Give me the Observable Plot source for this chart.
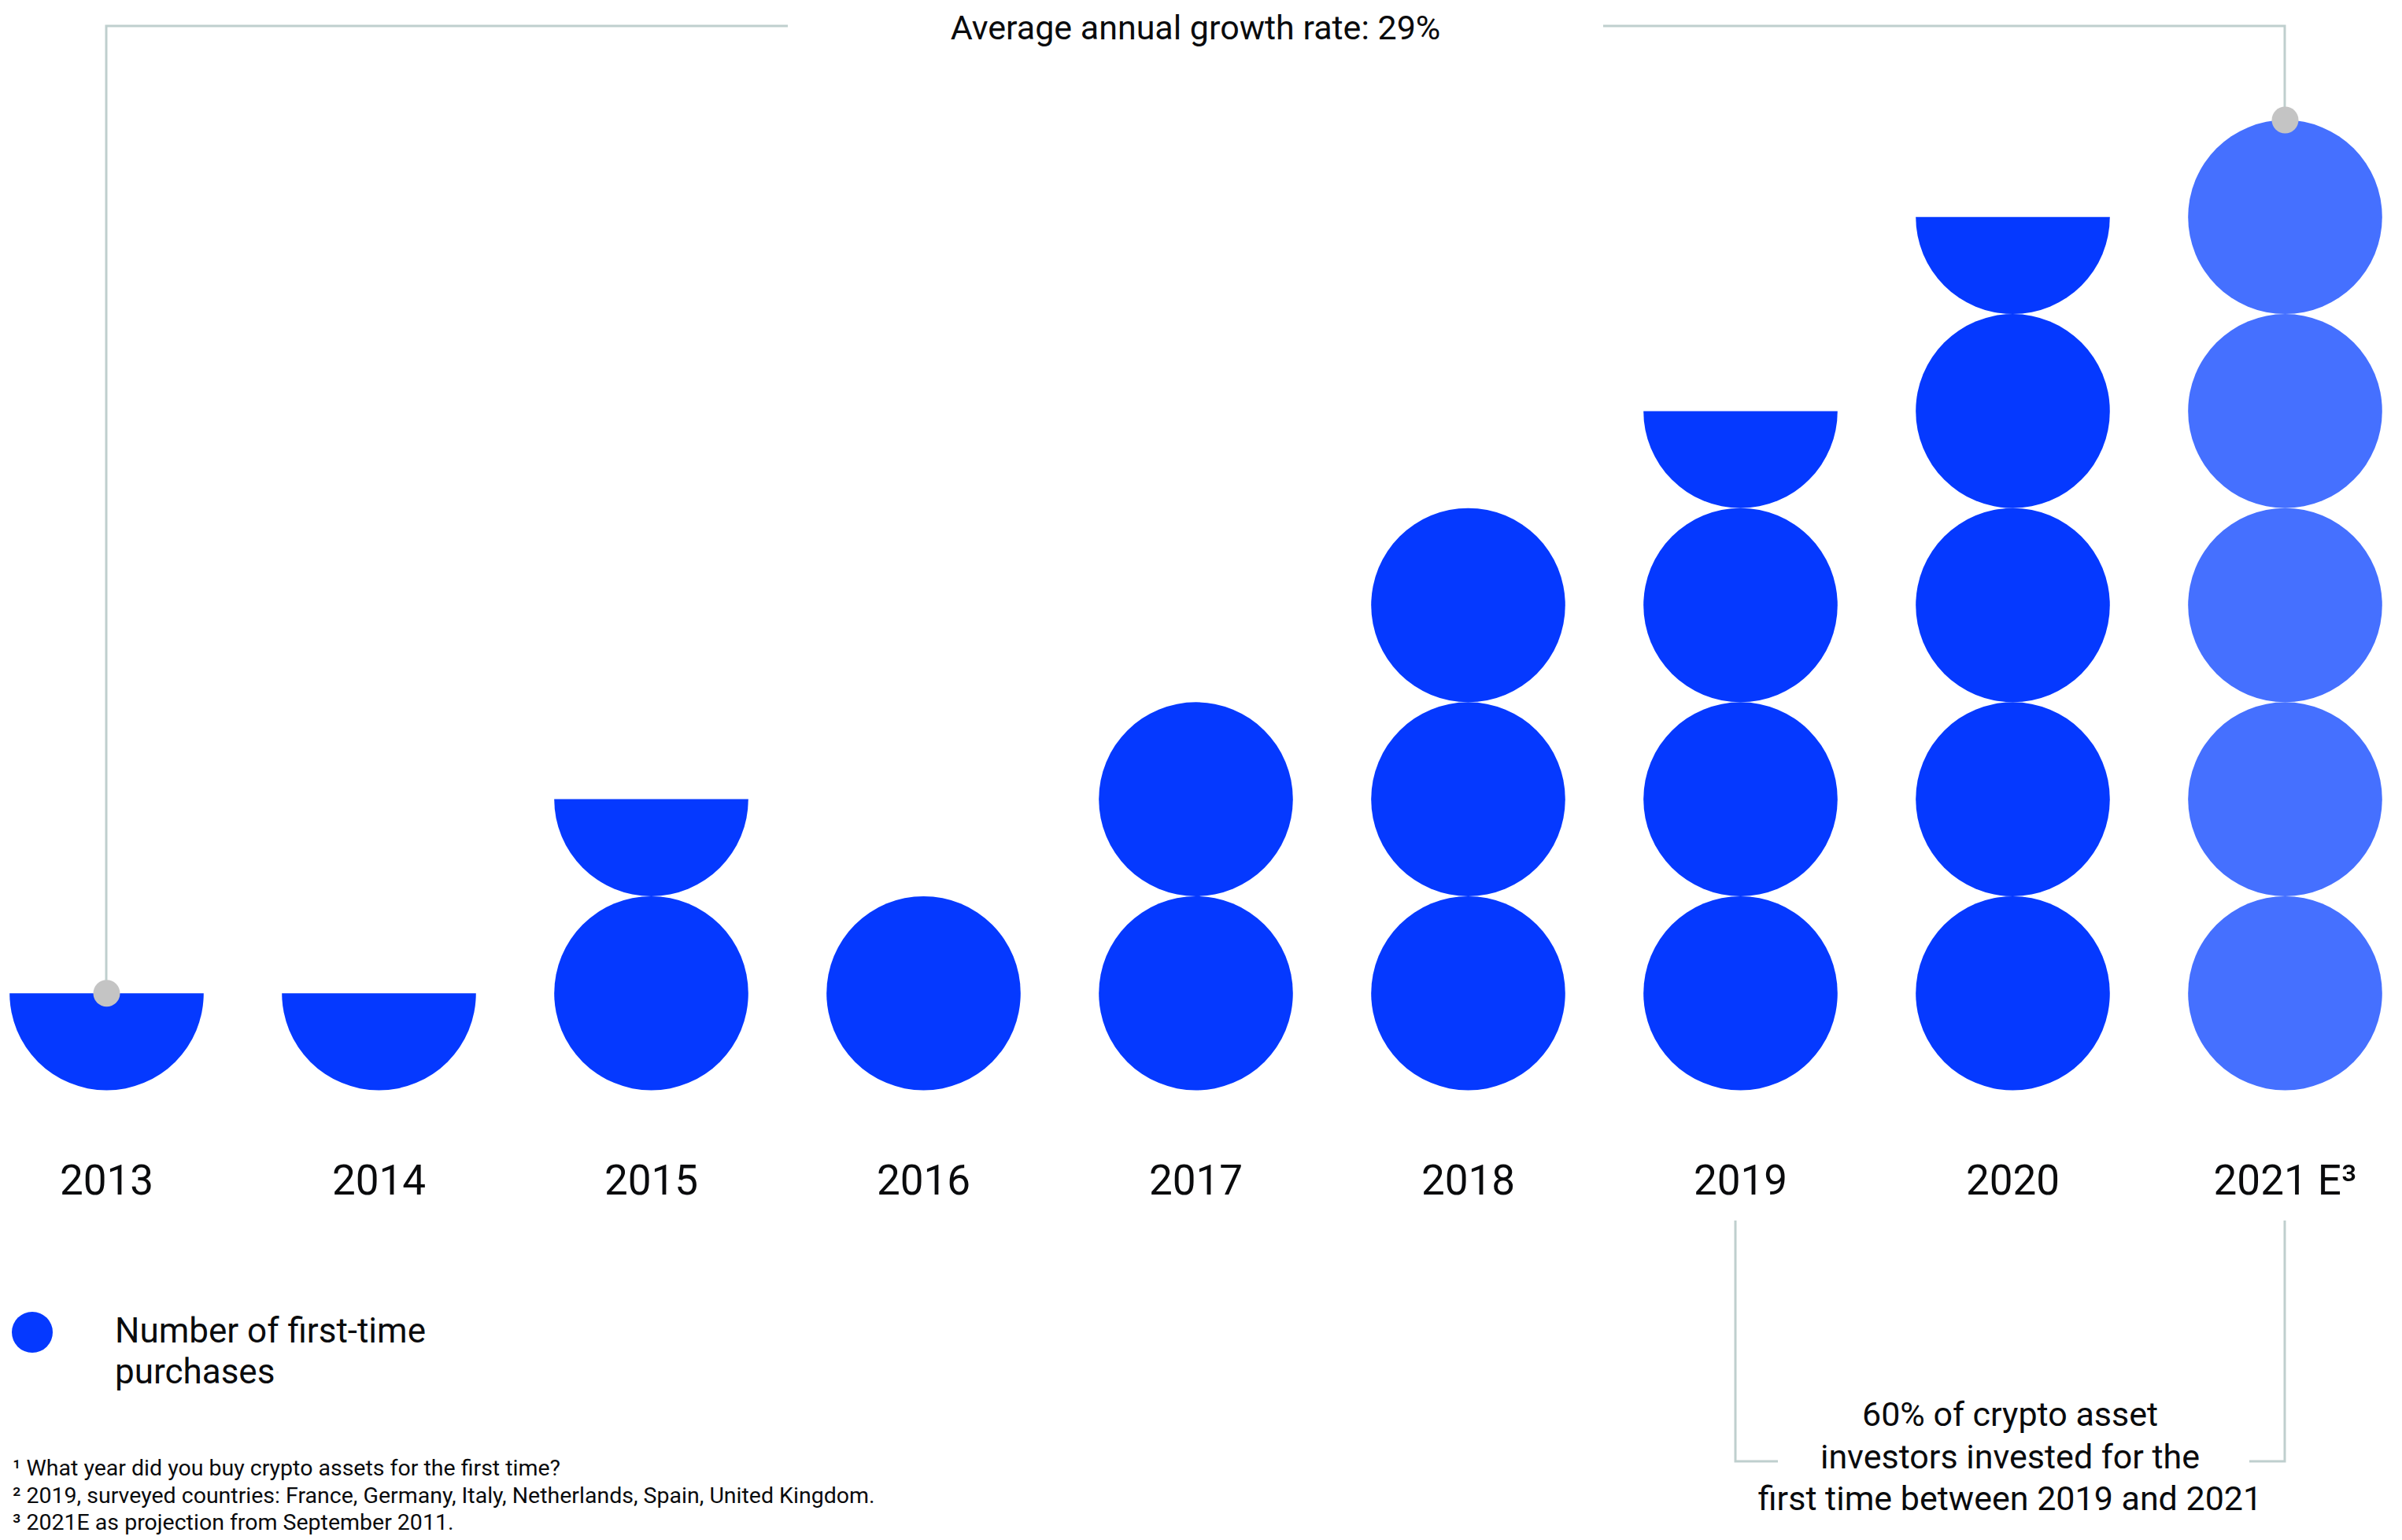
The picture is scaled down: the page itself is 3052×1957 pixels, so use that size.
<!DOCTYPE html>
<html>
<head>
<meta charset="utf-8">
<script src="https://cdn.jsdelivr.net/npm/d3@7"></script>
<script src="https://cdn.jsdelivr.net/npm/@observablehq/plot@0.6"></script>
<style>
  html, body { margin: 0; padding: 0; background: #fff; }
  #wrap { position: relative; width: 3052px; height: 1957px; overflow: hidden;
          font-family: Roboto, "Noto Sans", sans-serif; color: #0a0b0d; }
  #wrap svg { display: block; }
  #legend { position: absolute; left: 0; top: 1665px; }
  #legend .sw { position: absolute; left: 15px; top: 2px; width: 52px; height: 52px; border-radius: 50%; }
  #legend .lb { position: absolute; left: 146px; top: 0; width: 500px; font-size: 44px; line-height: 52px; }
  #notes { position: absolute; left: 16px; top: 1849px; font-size: 28.5px; line-height: 34.5px; white-space: nowrap; }
</style>
</head>
<body>
<div id="wrap"></div>
<script>
// ---- data ----
const years = ["2013", "2014", "2015", "2016", "2017", "2018", "2019", "2020", "2021 E³"];
const purchases = [0.5, 0.5, 1.5, 1, 2, 3, 3.5, 4.5, 5];
const status = ["actual", "actual", "actual", "actual", "actual", "actual", "actual", "actual", "projected"];
const statusKeys = ["actual", "projected"];
const statusColors = ["#0539FF", "#4570FF"];
const seriesLabel = "Number of first-time purchases";
const growthNote = "Average annual growth rate: 29%";
const bracketNote = ["60% of crypto asset", "investors invested for the", "first time between 2019 and 2021"];
const bracketFrom = "2019";
const footnotes = [
  "¹ What year did you buy crypto assets for the first time?",
  "² 2019, surveyed countries: France, Germany, Italy, Netherlands, Spain, United Kingdom.",
  "³ 2021E as projection from September 2011."
];

// ---- stacked units: full circles and bottom halves ----
const full = [], half = [];
years.forEach((yr, i) => {
  const v = purchases[i];
  const n = Math.floor(v);
  for (let k = 0; k < n; k++) full.push({year: yr, y: k + 0.5, status: status[i]});
  if (v - n > 0) half.push({year: yr, y: n + 0.5, status: status[i]});
});

// bottom-half circle symbol (flat edge on top)
const bottomHalf = {
  draw(ctx, size) {
    const r = Math.sqrt(size / Math.PI);
    ctx.moveTo(r, 0);
    ctx.arc(0, 0, r, 0, Math.PI);
    ctx.closePath();
  }
};

const W = 3052, H = 1957, mt = 152, mb = 572, ml = 134, mr = 149;
const yMax = 5;
const unitPx = (H - mt - mb) / yMax;
const R = unitPx / 2;
const lineColor = "#BFCFCE";
const textColor = "#0a0b0d";
const font = "Roboto, 'Noto Sans', sans-serif";

const annotations = (index, scales) => {
  const g = d3.create("svg:g");
  const last = years.length - 1;
  const x0 = scales.x(years[0]), x1 = scales.x(years[last]);
  const y0 = scales.y(purchases[0]), y1 = scales.y(purchases[last]);
  const top = 33, mid = (x0 + x1) / 2, gap = 518;
  const p = g.append("g").attr("fill", "none").attr("stroke", lineColor).attr("stroke-width", 3);
  p.append("path").attr("d", `M${x0},${y0}V${top}H${mid - gap}M${mid + gap},${top}H${x1}V${y1}`);
  g.append("text").attr("x", mid).attr("y", 50).attr("text-anchor", "middle")
    .attr("font-family", font).attr("font-size", 43).attr("fill", textColor).text(growthNote);
  // bottom bracket
  const xa = scales.x(bracketFrom) - 6, xb = x1;
  const bt = 1551, bb = 1857;
  p.append("path").attr("d", `M${xa},${bt}V${bb}H${xa + 54}M${xb - 45},${bb}H${xb}V${bt}`);
  const mid2 = (xa + xb) / 2;
  const t = g.append("text").attr("text-anchor", "middle").attr("font-family", font)
    .attr("font-size", 43).attr("fill", textColor);
  bracketNote.forEach((s, i) => t.append("tspan").attr("x", mid2).attr("y", 1812 + i * 53.5).text(s));
  return g.node();
};

const chart = Plot.plot({
  width: W, height: H,
  marginTop: mt, marginBottom: mb, marginLeft: ml, marginRight: mr,
  style: {fontFamily: font, background: "#fff", color: textColor},
  x: {type: "point", domain: years, padding: 0},
  y: {domain: [0, yMax], axis: null},
  color: {domain: statusKeys, range: statusColors},
  marks: [
    Plot.axisX({tickSize: 0, tickPadding: 95, fontSize: 53, label: null}),
    Plot.dot(full, {x: "year", y: "y", r: R, fill: "status"}),
    Plot.dot(half, {x: "year", y: "y", r: R, fill: "status", symbol: bottomHalf}),
    annotations,
    Plot.dot([0, years.length - 1], {x: i => years[i], y: i => purchases[i], r: 17, fill: "#C4C4C4"})
  ]
});

const wrap = document.getElementById("wrap");
wrap.appendChild(chart);

const legend = document.createElement("div");
legend.id = "legend";
legend.innerHTML = `<div class="sw" style="background:${statusColors[0]}"></div><div class="lb">${seriesLabel}</div>`;
wrap.appendChild(legend);

const notes = document.createElement("div");
notes.id = "notes";
notes.innerHTML = footnotes.map(s => `<div>${s}</div>`).join("");
wrap.appendChild(notes);
</script>
</body>
</html>
